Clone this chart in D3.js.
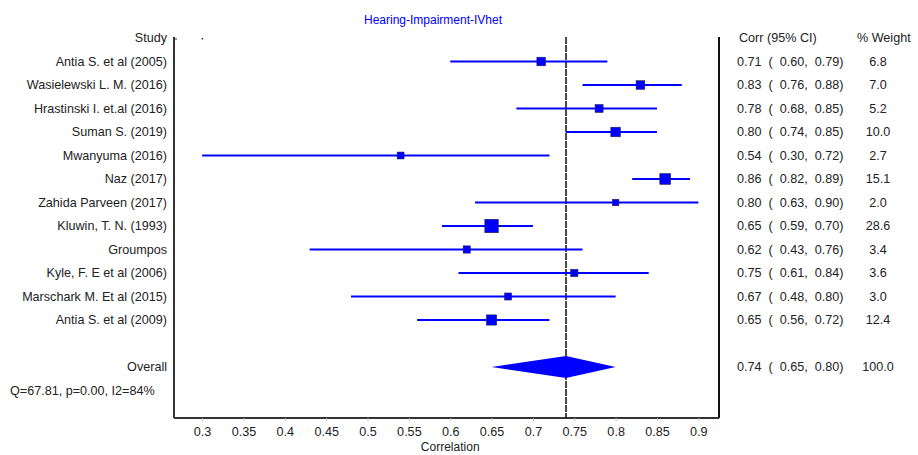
<!DOCTYPE html>
<html>
<head>
<meta charset="utf-8">
<script src="https://cdn.jsdelivr.net/npm/d3@7"></script>
<style>
  body { margin: 0; background: #fff; }
  text { font-family: "Liberation Sans", Arial, sans-serif; fill: #222; }
</style>
</head>
<body>
<div id="chart"></div>
<script>
const studies = [
  'Antia S. et al (2005)', 'Wasielewski L. M. (2016)', 'Hrastinski I. et.al (2016)',
  'Suman S. (2019)', 'Mwanyuma (2016)', 'Naz (2017)', 'Zahida Parveen (2017)',
  'Kluwin, T. N. (1993)', 'Groumpos', 'Kyle, F. E et al (2006)',
  'Marschark M. Et al (2015)', 'Antia S. et al (2009)'
];
const corr = [0.71, 0.83, 0.78, 0.80, 0.54, 0.86, 0.80, 0.65, 0.62, 0.75, 0.67, 0.65];
const lower = [0.60, 0.76, 0.68, 0.74, 0.30, 0.82, 0.63, 0.59, 0.43, 0.61, 0.48, 0.56];
const upper = [0.79, 0.88, 0.85, 0.85, 0.72, 0.89, 0.90, 0.70, 0.76, 0.84, 0.80, 0.72];
const weights = [6.8, 7.0, 5.2, 10.0, 2.7, 15.1, 2.0, 28.6, 3.4, 3.6, 3.0, 12.4];
const overall = { corr: 0.74, lower: 0.65, upper: 0.80, weight: 100.0 };
const hetText = 'Q=67.81, p=0.00, I2=84%';
const xTicks = [0.3, 0.35, 0.4, 0.45, 0.5, 0.55, 0.6, 0.65, 0.7, 0.75, 0.8, 0.85, 0.9];

const w = 918;
const h = 455;
const plot = { left: 174, right: 719, top: 37, bottom: 418 };
const rowTop = 38;
const rowStep = 23.5;
const blue = '#0000ff';
const fs = 12.6;

const svg = d3.select('#chart').append('svg').attr('width', w).attr('height', h);

const x = d3.scaleLinear().domain([0.266, 0.925]).range([plot.left, plot.right]);
const y = i => rowTop + i * rowStep;
const size = d3.scaleSqrt().domain([0, 30]).range([4, 13.75]);

// title
svg.append('text')
  .attr('x', 433).attr('y', 24)
  .attr('text-anchor', 'middle')
  .attr('font-size', 12)
  .style('fill', blue)
  .text('Hearing-Impairment-IVhet');

// frame lines
svg.append('line')
  .attr('x1', plot.left).attr('x2', plot.left)
  .attr('y1', plot.top).attr('y2', plot.bottom)
  .attr('stroke', '#333').attr('stroke-width', 2);
svg.append('line')
  .attr('x1', plot.right).attr('x2', plot.right)
  .attr('y1', plot.top).attr('y2', plot.bottom)
  .attr('stroke', '#111').attr('stroke-width', 2);

// bottom axis
const xAxis = d3.axisBottom(x).tickValues(xTicks).tickSize(3).tickPadding(6).tickFormat(d3.format('~g'));
const gx = svg.append('g').attr('transform', `translate(0,${plot.bottom})`).call(xAxis);
gx.select('.domain').attr('d', `M${plot.left},0H${plot.right}`).attr('stroke', '#333').attr('stroke-width', 2);
gx.selectAll('.tick line').attr('stroke', '#bbb');
gx.selectAll('.tick text').attr('font-size', fs).style('font-family', '"Liberation Sans", Arial, sans-serif').style('fill', '#222');

svg.append('text')
  .attr('x', x(0.6)).attr('y', 451)
  .attr('text-anchor', 'middle')
  .attr('font-size', 12)
  .text('Correlation');

// small marks at top
svg.append('line')
  .attr('x1', plot.left).attr('x2', plot.left + 3)
  .attr('y1', plot.top + 2).attr('y2', plot.top + 2)
  .attr('stroke', '#333');
svg.append('rect')
  .attr('x', x(0.3) - 0.5).attr('y', plot.top + 1)
  .attr('width', 1.5).attr('height', 1.5)
  .attr('fill', '#333');

// overall reference line
svg.append('line')
  .attr('x1', x(overall.corr)).attr('x2', x(overall.corr))
  .attr('y1', plot.top).attr('y2', plot.bottom)
  .attr('stroke', '#111').attr('stroke-width', 1.5)
  .attr('stroke-dasharray', '7,1');

// header texts
svg.append('text').attr('x', 167).attr('y', y(0) + 4)
  .attr('text-anchor', 'end').attr('font-size', fs).text('Study');
svg.append('text').attr('x', 739).attr('y', y(0) + 4)
  .attr('font-size', fs).text('Corr (95% CI)');
svg.append('text').attr('x', 857).attr('y', y(0) + 4)
  .attr('font-size', fs).text('% Weight');

const fmt = d3.format('.2f');
const rows = studies.map((s, i) => ({
  name: s, corr: corr[i], lower: lower[i], upper: upper[i], weight: weights[i], idx: i + 1
}));

const g = svg.selectAll('g.row').data(rows).enter().append('g').attr('class', 'row');

g.append('text')
  .attr('x', 167).attr('y', d => y(d.idx) + 4)
  .attr('text-anchor', 'end').attr('font-size', fs)
  .text(d => d.name);

g.append('line')
  .attr('x1', d => x(d.lower)).attr('x2', d => x(d.upper))
  .attr('y1', d => y(d.idx)).attr('y2', d => y(d.idx))
  .attr('stroke', blue).attr('stroke-width', 2);

g.append('rect')
  .attr('x', d => x(d.corr) - size(d.weight) / 2)
  .attr('y', d => y(d.idx) - size(d.weight) / 2)
  .attr('width', d => size(d.weight))
  .attr('height', d => size(d.weight))
  .attr('fill', blue)
  .attr('stroke', '#223')
  .attr('stroke-width', 0.5);

g.append('text')
  .attr('x', 737).attr('y', d => y(d.idx) + 4)
  .attr('font-size', fs)
  .style('white-space', 'pre')
  .text(d => `${fmt(d.corr)}  (  ${fmt(d.lower)},  ${fmt(d.upper)})`);

g.append('text')
  .attr('x', 878).attr('y', d => y(d.idx) + 4)
  .attr('text-anchor', 'middle').attr('font-size', fs)
  .text(d => d.weight.toFixed(1));

// overall row
const oy = y(14);
svg.append('text').attr('x', 167).attr('y', oy + 4)
  .attr('text-anchor', 'end').attr('font-size', fs).text('Overall');
svg.append('path')
  .attr('d', `M${x(overall.lower)},${oy}L${x(overall.corr)},${oy - 11}L${x(overall.upper)},${oy}L${x(overall.corr)},${oy + 11}Z`)
  .attr('fill', blue);
svg.append('text').attr('x', 737).attr('y', oy + 4)
  .attr('font-size', fs).style('white-space', 'pre')
  .text(`${fmt(overall.corr)}  (  ${fmt(overall.lower)},  ${fmt(overall.upper)})`);
svg.append('text').attr('x', 878).attr('y', oy + 4)
  .attr('text-anchor', 'middle').attr('font-size', fs)
  .text(overall.weight.toFixed(1));

svg.append('text').attr('x', 10).attr('y', y(15) + 4)
  .attr('font-size', fs).text(hetText);
</script>
</body>
</html>
